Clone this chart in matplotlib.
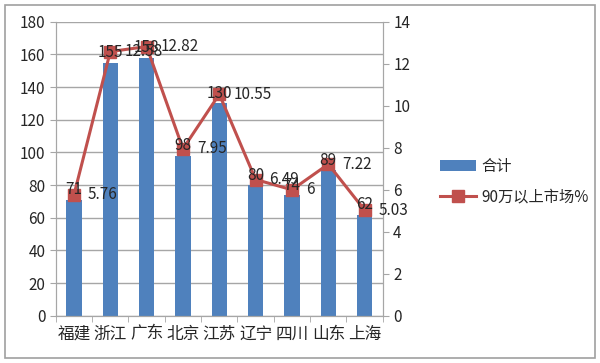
import numpy as np
import matplotlib.pyplot as plt
from matplotlib.patches import Rectangle

plt.rcParams['font.family'] = ['Noto Sans CJK SC', 'DejaVu Sans']

provinces = ['福建', '浙江', '广东', '北京', '江苏', '辽宁', '四川', '山东', '上海']
totals = [71, 155, 158, 98, 130, 80, 74, 89, 62]
pct_90w = [5.76, 12.58, 12.82, 7.95, 10.55, 6.49, 6, 7.22, 5.03]

bar_color = '#4F81BD'
line_color = '#C0504D'
grid_color = '#A6A6A6'
text_color = '#262626'

fig = plt.figure(figsize=(6, 3.63), dpi=100)
fig.patches.append(Rectangle((0.008, 0.015), 0.984, 0.972, transform=fig.transFigure,
                             fill=False, edgecolor='#A0A0A0', linewidth=1.2))

ax = fig.add_axes([0.093, 0.13, 0.545, 0.81])
ax2 = ax.twinx()

x = np.arange(len(provinces))
ax.bar(x, totals, width=0.42, color=bar_color, label='合计', zorder=2)
ax.set_ylim(0, 180)
ax.set_yticks(range(0, 181, 20))
ax.set_xlim(-0.5, len(provinces) - 0.5)
ax.set_xticks(x)
ax.set_xticklabels(provinces, fontsize=12, color=text_color)
ax.set_xticks(np.arange(-0.5, len(provinces), 1), minor=True)
ax.tick_params(axis='x', which='major', length=0, pad=7)
ax.tick_params(axis='x', which='minor', length=4, color=grid_color)
ax.tick_params(axis='y', length=4, color=grid_color, labelsize=11, labelcolor=text_color)
ax.yaxis.grid(True, color=grid_color, linewidth=1, zorder=0)
ax.set_axisbelow(True)
ax.spines['top'].set_visible(False)
for s in ['left', 'bottom', 'right']:
    ax.spines[s].set_color(grid_color)

ax2.plot(x, pct_90w, color=line_color, linewidth=2.2, marker='s', markersize=9,
         label='90万以上市场%', zorder=3)
ax2.set_ylim(0, 14)
ax2.set_yticks(range(0, 15, 2))
ax2.tick_params(axis='y', length=4, color=grid_color, labelsize=11, labelcolor=text_color)
ax2.spines['top'].set_visible(False)
for s in ['left', 'bottom', 'right']:
    ax2.spines[s].set_color(grid_color)

# bar labels drawn on the top axes so they sit above the markers
for xi, v in zip(x, totals):
    ax2.annotate(str(v), (xi, v), xycoords=ax.transData, xytext=(0, 1),
                 textcoords='offset points', ha='center', va='bottom',
                 fontsize=11, color=text_color, zorder=5)
for xi, v in zip(x, pct_90w):
    ax2.annotate('%g' % v, (xi, v), xytext=(10, 0), textcoords='offset points',
                 ha='left', va='center', fontsize=11, color=text_color, zorder=5)

h1, l1 = ax.get_legend_handles_labels()
h2, l2 = ax2.get_legend_handles_labels()
fig.legend(h1 + h2, l1 + l2, loc='center left', bbox_to_anchor=(0.71, 0.5),
           frameon=False, fontsize=11, handlelength=2.4, labelspacing=0.9,
           handletextpad=0.3, labelcolor=text_color)

fig.savefig('out.png', dpi=100)
